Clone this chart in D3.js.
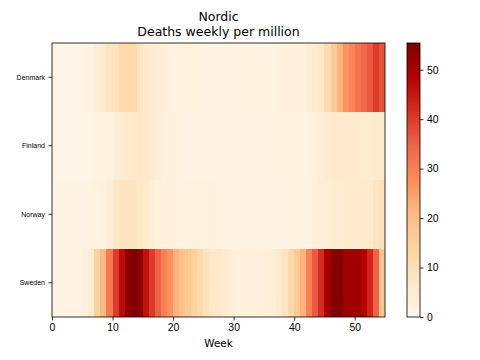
<!DOCTYPE html>
<html>
<head>
<meta charset="utf-8">
<script src="https://cdn.jsdelivr.net/npm/d3@7"></script>
<style>
  html, body { margin: 0; padding: 0; background: #fff; }
  svg { display: block; font-family: "DejaVu Sans", sans-serif; }
</style>
</head>
<body>
<svg id="chart" width="480" height="360"></svg>
<script>
// ---- data (weekly deaths per million, weeks 0..54) ----
const countries = ['Denmark', 'Finland', 'Norway', 'Sweden'];

const denmark = [1,1,1,1,1,1.5,2,4,6,8, 9,12,12,12,8,6,5,4.5,4,3,
                 2.5,2.5,2.5,2.5,2,1.5,1.5,1.5,1.5,1.5, 1.5,2,2,2,2,2,2,2.5,3,3,
                 3,3,4,5,7,11,16,22,27,29, 32,34,36,40,37];
const finland = [1,1,1,1,1,1,1,2,2,2, 4,5,6,7,7,6,5,4,3,3,
                 2.5,2,1.5,1.5,1.5,1.5,1.5,1.5,1.5,1.5, 1.5,1.5,1.5,1.5,1.5,1.5,2,2,2,2,
                 2,2,2.5,3,4,5,6,6,6,5.5, 5.5,5,5,6,6];
const norway  = [1.5,1.5,1.5,1.5,1.5,1.5,2,2.5,3,4, 7,8,8,8,7,6,4,3,3,3,
                 2.5,2.5,2.5,2.5,2.5,2.5,2.5,2,2,2, 1.5,1.5,1.5,1.5,1.5,1.5,1.5,2,2,2,
                 2,2,2,4,4,4,5,5,5.5,5.5, 5.5,5.5,6,8,9];
const sweden  = [1.5,1.5,1.5,1.5,1.5,3,5,14,21,31, 40,47,53,55.4,53,46,40,35,30,27,
                 22,19,17,14,12,9,7,7,5,4, 3,3,3,3,3,4,4,6,8,12,
                 16,22,30,36,42,50,55,55,51,51, 51,48,43,35,18];
const series = [denmark, finland, norway, sweden];

const xTicks = [0, 10, 20, 30, 40, 50];
const cbTicks = [0, 10, 20, 30, 40, 50];
const titleLines = ['Nordic', 'Deaths weekly per million'];

// matplotlib OrRd anchors
const orrd = ['#fff7ec','#fee8c8','#fdd49e','#fdbb84','#fc8d59','#ef6548','#d7301f','#b30000','#7f0000'];

// ---- layout ----
const svg = d3.select('#chart');
const m = {left: 52, right: 385, top: 43, bottom: 317};
const vmax = d3.max(series.flat());
const nWeeks = denmark.length;

const x = d3.scaleLinear().domain([0, nWeeks]).range([m.left, m.right]);
const y = d3.scaleBand().domain(countries).range([m.top, m.bottom]);
const color = d3.scaleLinear()
  .domain(orrd.map((c, i) => i / (orrd.length - 1) * vmax))
  .range(orrd)
  .interpolate(d3.interpolateRgb)
  .clamp(true);

// ---- cells ----
const cells = [];
countries.forEach((c, r) => series[r].forEach((v, w) => cells.push({c, w, v})));

svg.append('g').selectAll('rect').data(cells).join('rect')
  .attr('x', d => x(d.w))
  .attr('y', d => y(d.c))
  .attr('width', d => x(d.w + 1) - x(d.w) + 0.4)
  .attr('height', y.bandwidth() + 0.4)
  .attr('fill', d => color(d.v))
  .attr('shape-rendering', 'crispEdges');

// ---- axes ----
const xAxis = svg.append('g').attr('transform', `translate(0,${m.bottom})`)
  .call(d3.axisBottom(x).tickValues(xTicks).tickSize(3.5).tickPadding(3.5).tickSizeOuter(0));
xAxis.selectAll('text').attr('font-size', 10.4).attr('fill', '#000');
xAxis.select('.domain').remove();
xAxis.selectAll('line').attr('stroke', '#000').attr('stroke-width', 0.8);

const yAxis = svg.append('g').attr('transform', `translate(${m.left},0)`)
  .call(d3.axisLeft(y).tickSize(3.5).tickPadding(3.5).tickSizeOuter(0));
yAxis.selectAll('text').attr('font-size', 7).attr('fill', '#000');
yAxis.select('.domain').remove();
yAxis.selectAll('line').attr('stroke', '#000').attr('stroke-width', 0.8);

svg.append('rect')
  .attr('x', m.left).attr('y', m.top)
  .attr('width', m.right - m.left).attr('height', m.bottom - m.top)
  .attr('fill', 'none').attr('stroke', '#000').attr('stroke-width', 0.8);

svg.append('text')
  .attr('x', (m.left + m.right) / 2).attr('y', 347)
  .attr('text-anchor', 'middle').attr('font-size', 10.4)
  .text('Week');

const title = svg.append('text')
  .attr('text-anchor', 'middle').attr('font-size', 12.5);
titleLines.forEach((t, i) => title.append('tspan')
  .attr('x', (m.left + m.right) / 2).attr('y', 21 + i * 15).text(t));

// ---- colorbar ----
const cb = {x0: 407, x1: 420};
const yc = d3.scaleLinear().domain([0, vmax]).range([m.bottom, m.top]);
const steps = d3.range(0, m.bottom - m.top);
svg.append('g').selectAll('rect').data(steps).join('rect')
  .attr('x', cb.x0).attr('width', cb.x1 - cb.x0)
  .attr('y', d => m.bottom - d - 1).attr('height', 1.2)
  .attr('fill', d => color(yc.invert(m.bottom - d - 0.5)))
  .attr('shape-rendering', 'crispEdges');
svg.append('rect')
  .attr('x', cb.x0).attr('y', m.top)
  .attr('width', cb.x1 - cb.x0).attr('height', m.bottom - m.top)
  .attr('fill', 'none').attr('stroke', '#000').attr('stroke-width', 0.8);

const cbAxis = svg.append('g').attr('transform', `translate(${cb.x1},0)`)
  .call(d3.axisRight(yc).tickValues(cbTicks).tickSize(3.5).tickPadding(3.5).tickSizeOuter(0));
cbAxis.select('.domain').remove();
cbAxis.selectAll('text').attr('font-size', 10.4).attr('fill', '#000');
cbAxis.selectAll('line').attr('stroke', '#000').attr('stroke-width', 0.8);
</script>
</body>
</html>
